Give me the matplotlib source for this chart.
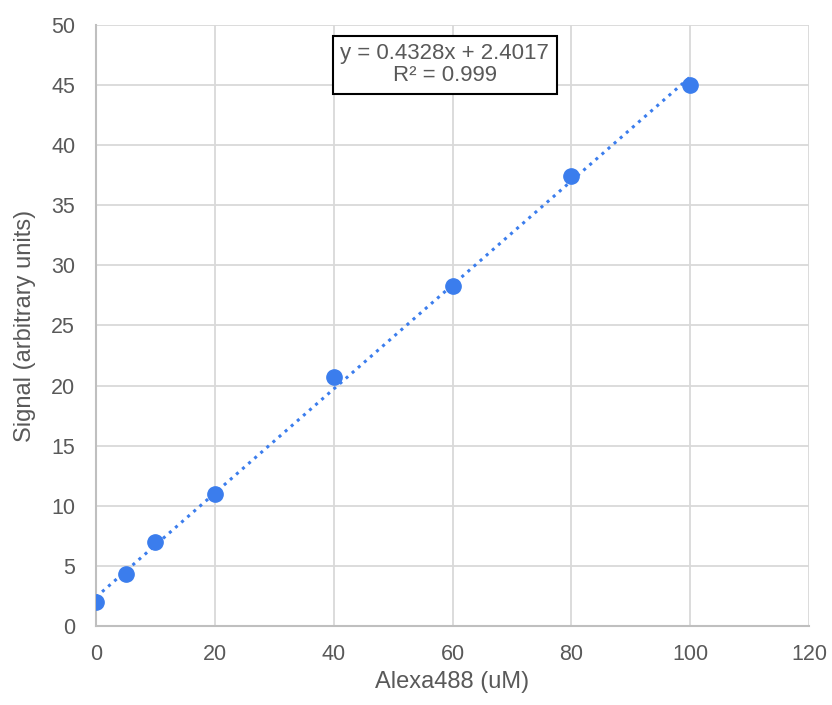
import matplotlib.pyplot as plt
import numpy as np

# calibration data
conc = [0, 5, 10, 20, 40, 60, 80, 100]
signal = [2.0, 4.3, 7.0, 11.0, 20.7, 28.3, 37.4, 45.0]
slope, intercept = 0.4328, 2.4017

plt.rcParams['font.family'] = ['Liberation Sans', 'DejaVu Sans']
txt = '#595959'
grid = '#d9d9d9'
blue = '#3b7ded'

fig = plt.figure(figsize=(8.32, 7.05), dpi=100)
ax = fig.add_axes([0.1154, 0.1121, 0.8570, 0.8524])

xfit = np.array([0, 100])
ax.plot(xfit, slope * xfit + intercept, ':', color=blue, linewidth=2.2, zorder=2)
ax.plot(conc, signal, 'o', color=blue, markersize=11, zorder=3)

ax.set_xlim(0, 120)
ax.set_ylim(0, 50)
ax.set_xticks(range(0, 121, 20))
ax.set_yticks(range(0, 51, 5))
ax.grid(True, color=grid, linewidth=1.3, zorder=0)
ax.set_axisbelow(True)
for side in ['top', 'right']:
    ax.spines[side].set_visible(False)
for side in ['left', 'bottom']:
    ax.spines[side].set_color('#bfbfbf')
    ax.spines[side].set_linewidth(1.5)
ax.tick_params(length=0, labelsize=15.5, labelcolor=txt)
ax.tick_params(axis='x', pad=13)
ax.tick_params(axis='y', pad=15)
ax.set_xlabel('Alexa488 (uM)', fontsize=17, color=txt, labelpad=4)
ax.set_ylabel('Signal (arbitrary units)', fontsize=17, color=txt, labelpad=11)

ax.text(58.7, 46.7, 'y = 0.4328x + 2.4017\nR² = 0.999', ha='center', va='center',
        fontsize=16, color=txt, linespacing=1.05,
        bbox=dict(boxstyle='square,pad=0.35', facecolor='white', edgecolor='black', linewidth=1.5))

fig.savefig('out.png', dpi=100)
